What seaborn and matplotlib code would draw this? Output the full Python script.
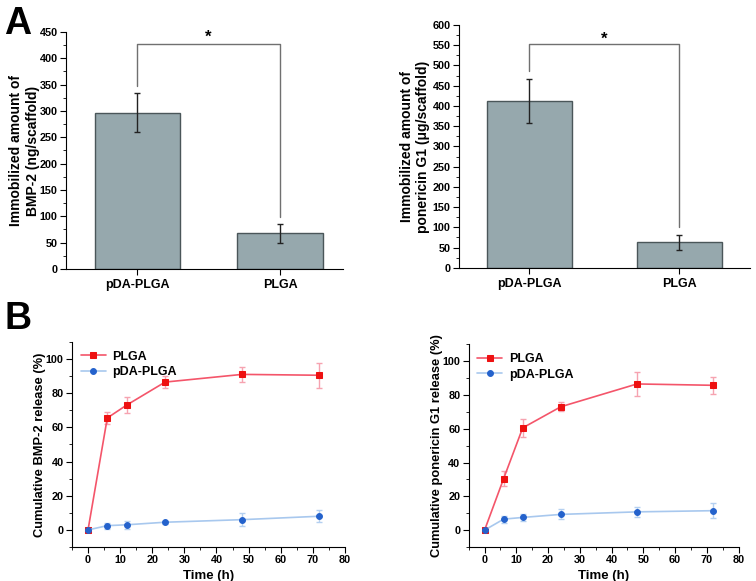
import numpy as np
import pandas as pd
import seaborn as sns
import matplotlib
matplotlib.use('Agg')
import matplotlib.pyplot as plt
from matplotlib.ticker import MultipleLocator

# --- data ---
groups = ['pDA-PLGA', 'PLGA']
bmp2_amount = [297, 68]
bmp2_amount_err = [37, 18]
g1_amount = [412, 63]
g1_amount_err = [54, 19]

time_h = [0, 6, 12, 24, 48, 72]
bmp2_plga = [0, 65.5, 73, 86.5, 91, 90.5]
bmp2_plga_err = [0, 3.5, 4.5, 3.5, 4.3, 7.3]
bmp2_pda = [0, 2.5, 3, 4.5, 6, 8]
bmp2_pda_err = [0, 1.8, 2.3, 1.0, 3.7, 3.5]
g1_plga = [0, 30.5, 60.5, 73, 86.5, 85.7]
g1_plga_err = [0, 4.5, 5.5, 2.8, 7, 5.2]
g1_pda = [0, 6.5, 7.5, 9.3, 10.8, 11.5]
g1_pda_err = [0, 2, 2, 3, 2.8, 4.5]

sns.set_style('ticks')
plt.rcParams['font.family'] = ['Liberation Sans', 'DejaVu Sans']
plt.rcParams['font.weight'] = 'bold'
plt.rcParams['axes.labelweight'] = 'bold'
for key in ['text.color', 'axes.labelcolor', 'xtick.color', 'ytick.color', 'axes.edgecolor']:
    plt.rcParams[key] = 'black'

bar_color = '#96a8ad'
bar_edge = '#4a5659'
bracket_color = '#707070'

fig = plt.figure(figsize=(7.56, 5.81), dpi=100)
ax_tl = fig.add_axes([0.0873, 0.537, 0.366, 0.408])
ax_tr = fig.add_axes([0.607, 0.539, 0.385, 0.418])
ax_bl = fig.add_axes([0.0952, 0.0585, 0.361, 0.353])
ax_br = fig.add_axes([0.620, 0.0585, 0.357, 0.349])


def bar_panel(ax, vals, errs, ylim, major, ylabel, bracket, star_y, xlim, width, pad):
    sns.barplot(x=groups, y=vals, ax=ax, color=bar_color, edgecolor=bar_edge,
                linewidth=1.0, width=width, saturation=1, errorbar=None)
    ax.errorbar(range(len(groups)), vals, yerr=errs, fmt='none', ecolor='#222222',
                elinewidth=1.0, capsize=2.5, capthick=1.0)
    left_bot, top, right_bot = bracket
    ax.plot([0, 0, 1, 1], [left_bot, top, top, right_bot], color=bracket_color, lw=1.0)
    ax.text(0.5, star_y, '*', ha='center', va='center', fontsize=12, fontweight='bold')
    ax.set_xlim(*xlim)
    ax.set_ylim(*ylim)
    ax.yaxis.set_major_locator(MultipleLocator(major))
    ax.yaxis.set_minor_locator(MultipleLocator(major / 2))
    ax.set_ylabel(ylabel, fontsize=10, labelpad=pad)
    ax.set_xlabel('')
    sns.despine(ax=ax)
    ax.tick_params(axis='y', labelsize=7.8, length=4, width=0.8, pad=2)
    ax.tick_params(axis='y', which='minor', length=2, width=0.6)
    ax.tick_params(axis='x', labelsize=9, length=4, width=0.8, pad=3)
    for lab in ax.get_xticklabels() + ax.get_yticklabels():
        lab.set_fontweight('bold')


bar_panel(ax_tl, bmp2_amount, bmp2_amount_err, (0, 450), 50,
          'Immobilized amount of\nBMP-2 (ng/scaffold)', (347, 427, 99), 440,
          (-0.5, 1.44), 0.6, 0)
bar_panel(ax_tr, g1_amount, g1_amount_err, (0, 600), 50,
          'Immobilized amount of\nponericin G1 (\u03bcg/scaffold)', (487, 552, 101), 565,
          (-0.47, 1.47), 0.57, 1.5)


def release_panel(ax, plga, plga_err, pda, pda_err, ylabel, pad):
    series = [('PLGA', plga, plga_err, '#f4556a', '#ee1111', '#f6a3b0', 's'),
              ('pDA-PLGA', pda, pda_err, '#a8c8ee', '#2462cc', '#b4d0f0', 'o')]
    for name, vals, errs, lc, mc, ec, mk in series:
        df = pd.DataFrame({'Time (h)': time_h, 'release': vals})
        ax.errorbar(time_h, vals, yerr=errs, fmt='none', ecolor=ec, elinewidth=1.0,
                    capsize=2.5, capthick=1.0, zorder=2)
        sns.lineplot(data=df, x='Time (h)', y='release', ax=ax, color=lc, lw=1.2,
                     marker=mk, markersize=4.2, markerfacecolor=mc, markeredgecolor=mc,
                     label=name, zorder=3)
    ax.set_xlim(-5, 80)
    ax.set_ylim(-10, 110)
    ax.xaxis.set_major_locator(MultipleLocator(10))
    ax.xaxis.set_minor_locator(MultipleLocator(5))
    ax.yaxis.set_major_locator(MultipleLocator(20))
    ax.yaxis.set_minor_locator(MultipleLocator(10))
    ax.set_ylabel(ylabel, fontsize=9.3, labelpad=pad)
    ax.set_xlabel('Time (h)', fontsize=9.5, labelpad=3)
    sns.despine(ax=ax)
    ax.tick_params(axis='both', labelsize=7.8, length=4, width=0.8, pad=2)
    ax.tick_params(axis='both', which='minor', length=2, width=0.6)
    for lab in ax.get_xticklabels() + ax.get_yticklabels():
        lab.set_fontweight('bold')
    ax.legend(loc='upper left', frameon=False, prop={'weight': 'bold', 'size': 9},
              handlelength=2.0, handletextpad=0.5, borderaxespad=0.3, labelspacing=0.3)


release_panel(ax_bl, bmp2_plga, bmp2_plga_err, bmp2_pda, bmp2_pda_err,
              'Cumulative BMP-2 release (%)', 0)
release_panel(ax_br, g1_plga, g1_plga_err, g1_pda, g1_pda_err,
              'Cumulative ponericin G1 release (%)', 0)

fig.text(0.006, 0.99, 'A', fontsize=27, fontweight='bold', va='top', ha='left')
fig.text(0.006, 0.482, 'B', fontsize=27, fontweight='bold', va='top', ha='left')

fig.savefig('out.png', dpi=100)
